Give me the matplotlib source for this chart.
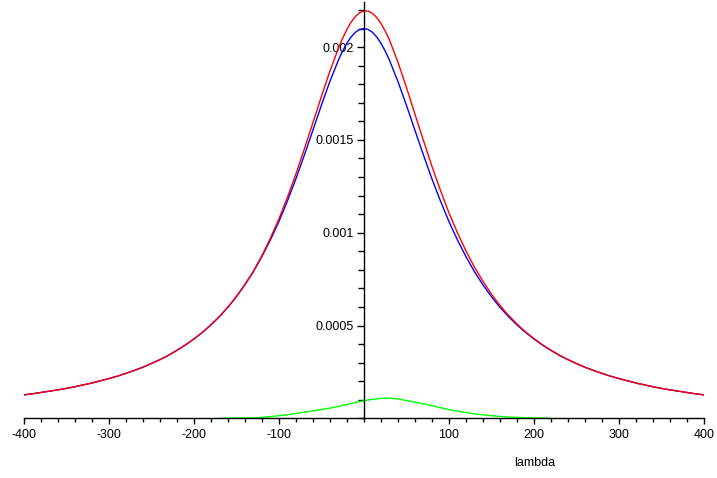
import matplotlib
matplotlib.use("Agg")
import matplotlib.pyplot as plt
from matplotlib.ticker import MultipleLocator, FuncFormatter

plt.rcParams["font.family"] = ["Liberation Sans", "DejaVu Sans"]

# lambda grid (finer near the peak)
lam = [-400, -390, -380, -370, -360, -350, -340, -330, -320, -310, -300,
       -290, -280, -270, -260, -250, -240, -230, -220, -210, -200, -190,
       -180, -170, -160, -150, -140, -130, -120, -110, -100, -90, -80,
       -70, -60, -50, -40, -30,
       -25, -20, -15, -10, -5, 0, 5, 10, 15, 20, 25,
       30, 40, 50, 60, 70, 80, 90, 100, 110, 120, 130, 140, 150, 160,
       170, 180, 190, 200, 210, 220, 230, 240, 250, 260, 270, 280, 290,
       300, 310, 320, 330, 340, 350, 360, 370, 380, 390, 400]

blue_vals = [0.000126, 0.000132, 0.000139, 0.000146, 0.000153, 0.000161,
             0.000170, 0.000180, 0.000190, 0.000202, 0.000214, 0.000227,
             0.000242, 0.000258, 0.000275, 0.000295, 0.000316, 0.000339,
             0.000366, 0.000395, 0.000427, 0.000463, 0.000503, 0.000548,
             0.000598, 0.000655, 0.000719, 0.000790, 0.000871, 0.000961,
             0.001060, 0.001171, 0.001290, 0.001419, 0.001552, 0.001687,
             0.001815, 0.001930,
             0.001979, 0.002021, 0.002055, 0.002080, 0.002095, 0.002100,
             0.002095, 0.002080, 0.002055, 0.002021, 0.001979,
             0.001930, 0.001815, 0.001687, 0.001552, 0.001419, 0.001290,
             0.001171, 0.001060, 0.000961, 0.000871, 0.000790, 0.000719,
             0.000655, 0.000598, 0.000548, 0.000503, 0.000463, 0.000427,
             0.000395, 0.000366, 0.000339, 0.000316, 0.000295, 0.000275,
             0.000258, 0.000242, 0.000227, 0.000214, 0.000202, 0.000190,
             0.000180, 0.000170, 0.000161, 0.000153, 0.000146, 0.000139,
             0.000132, 0.000126]

red_vals = [0.000126, 0.000132, 0.000139, 0.000146, 0.000153, 0.000161,
            0.000170, 0.000180, 0.000190, 0.000202, 0.000214, 0.000227,
            0.000242, 0.000258, 0.000275, 0.000295, 0.000316, 0.000339,
            0.000366, 0.000395, 0.000427, 0.000463, 0.000503, 0.000548,
            0.000599, 0.000656, 0.000721, 0.000792, 0.000876, 0.000970,
            0.001074, 0.001190, 0.001316, 0.001452, 0.001592, 0.001734,
            0.001870, 0.001994,
            0.002048, 0.002095, 0.002135, 0.002165, 0.002185, 0.002195,
            0.002194, 0.002182, 0.002160, 0.002128, 0.002087,
            0.002039, 0.001919, 0.001783, 0.001639, 0.001497, 0.001358,
            0.001228, 0.001107, 0.001000, 0.000902, 0.000814, 0.000738,
            0.000669, 0.000608, 0.000555, 0.000508, 0.000466, 0.000429,
            0.000396, 0.000366, 0.000339, 0.000316, 0.000295, 0.000275,
            0.000258, 0.000242, 0.000227, 0.000214, 0.000202, 0.000190,
            0.000180, 0.000170, 0.000161, 0.000153, 0.000146, 0.000139,
            0.000132, 0.000126]

# green bump, only drawn on a limited range
lam_green = [-170, -160, -150, -140, -130, -120, -110, -100, -90, -80, -70,
             -60, -50, -40, -30, -20, -10, 0, 10, 20, 30, 40, 50, 60, 70,
             80, 90, 100, 110, 120, 130, 140, 150, 160, 170, 180, 190, 200,
             210, 220]
green_vals = [0.0, 0.0000005, 0.000001, 0.0000015, 0.000002, 0.000005,
              0.000009, 0.000014, 0.000019, 0.000026, 0.000033, 0.000040,
              0.000047, 0.000055, 0.000064, 0.000074, 0.000085, 0.000095,
              0.000102, 0.000107, 0.000109, 0.000104, 0.000096, 0.000087,
              0.000078, 0.000068, 0.000057, 0.000047, 0.000039, 0.000031,
              0.000024, 0.000019, 0.000014, 0.000010, 0.000007, 0.000005,
              0.000003, 0.000002, 0.000001, 0.0]

x_major = [-400, -300, -200, -100, 100, 200, 300, 400]
y_major = [0.0005, 0.001, 0.0015, 0.002]

fig = plt.figure(figsize=(7.17, 4.78), dpi=100, facecolor="white")
ax = fig.add_axes([0.0332, 0.1249, 0.9487, 0.8709])

ax.plot(lam_green, green_vals, color="#00FF00", linewidth=1.0)
ax.plot(lam, blue_vals, color="#0000FF", linewidth=1.0)
ax.plot(lam, red_vals, color="#FF0000", linewidth=1.0)

ax.set_xlim(-400, 400)
ax.set_ylim(0, 0.002243)

# Maple-style axes through the origin
ax.spines["top"].set_visible(False)
ax.spines["right"].set_visible(False)
ax.spines["left"].set_position(("data", 0))
ax.spines["bottom"].set_position(("data", 0))
for s in ("left", "bottom"):
    ax.spines[s].set_linewidth(1.0)
    ax.spines[s].set_color("black")

ax.set_xticks(x_major)
ax.set_yticks(y_major)
ax.xaxis.set_minor_locator(MultipleLocator(20))
ax.yaxis.set_minor_locator(MultipleLocator(0.0001))
ax.xaxis.set_major_formatter(FuncFormatter(lambda v, p: f"{v:g}"))
ax.yaxis.set_major_formatter(FuncFormatter(lambda v, p: f"{v:g}"))

ax.tick_params(axis="both", which="both", direction="out", width=1.0,
               colors="black", labelsize=9)
ax.tick_params(axis="x", which="major", length=4, pad=4)
ax.tick_params(axis="x", which="minor", length=3)
ax.tick_params(axis="y", which="major", length=5, pad=2)
ax.tick_params(axis="y", which="minor", length=4)

fig.text(0.746, 0.031, "lambda", ha="center", va="center", fontsize=9)

fig.savefig("out.png", dpi=100, facecolor="white")
